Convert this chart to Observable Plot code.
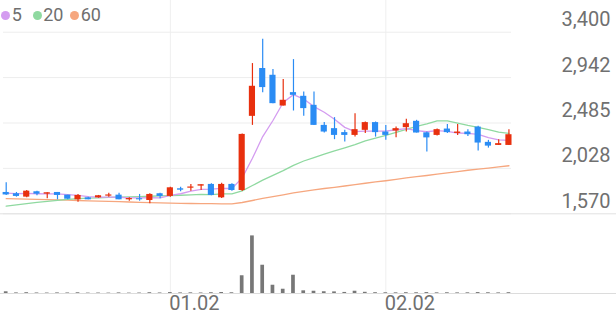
<!DOCTYPE html>
<html><head><meta charset="utf-8">
<script src="https://cdn.jsdelivr.net/npm/d3@7"></script>
<script src="https://cdn.jsdelivr.net/npm/@observablehq/plot@0.6"></script>
<style>
body{margin:0;background:#fff;font-family:Roboto,sans-serif}
#wrap{position:relative;width:616px;height:321px;overflow:hidden;background:#fff}
#wrap svg{position:absolute;left:0;display:block;background:transparent}
.dot{position:absolute;width:9px;height:9px;border-radius:50%}
.lbl{position:absolute;font-size:18px;line-height:18px;color:#6f6f6f;white-space:nowrap}
</style>
</head><body>
<div id="wrap"></div>
<script>
// ---- data ----
const opens  = [1785,1772,1738,1792,1768,1785,1758,1711,1731,1731,1748,1758,1711,1722,1704,1772,1745,1822,1828,1849,1866,1731,1866,1805,2552,3034,2966,2656,2791,2754,2663,2461,2428,2388,2360,2411,2489,2394,2404,2438,2502,2386,2360,2424,2380,2394,2444,2290,2259,2259];
const highs  = [1883,1785,1805,1798,1782,1785,1758,1765,1738,1755,1778,1778,1731,1765,1772,1778,1838,1838,1866,1863,1873,1879,1873,2375,3084,3329,3024,2923,3124,2797,2797,2489,2539,2411,2579,2495,2495,2461,2444,2522,2512,2394,2424,2471,2471,2418,2451,2310,2317,2418];
const lows   = [1755,1738,1732,1752,1721,1711,1711,1687,1711,1727,1738,1711,1697,1697,1671,1721,1738,1792,1798,1805,1752,1724,1798,1795,2461,2791,2680,2656,2606,2552,2461,2384,2317,2293,2343,2378,2343,2310,2337,2394,2384,2192,2353,2378,2360,2350,2202,2232,2259,2259];
const closes = [1760,1745,1798,1768,1782,1755,1717,1755,1711,1752,1760,1711,1724,1711,1765,1745,1832,1808,1840,1863,1755,1866,1805,2370,2855,2842,2680,2714,2764,2630,2461,2394,2360,2360,2418,2489,2388,2360,2428,2478,2384,2335,2418,2388,2394,2367,2283,2252,2277,2367];
const volumes = [128,45,60,40,35,45,40,55,30,35,30,45,30,35,60,40,70,45,50,40,60,75,55,1330,4320,2120,620,320,1370,200,170,130,120,80,170,90,60,55,50,60,55,70,50,55,45,50,70,55,45,60];
const ma5  = [1778,1774,1775,1772,1771,1770,1764,1755,1744,1738,1738,1737,1730,1730,1733,1731,1755,1772,1798,1817,1819,1826,1825,1932,2130,2348,2510,2692,2771,2726,2650,2593,2522,2441,2399,2404,2403,2403,2417,2429,2408,2397,2409,2401,2384,2380,2370,2337,2315,2309];
const ma20 = [1647,1660,1673,1685,1696,1706,1715,1722,1727,1731,1735,1738,1741,1744,1747,1750,1754,1757,1761,1765,1764,1770,1771,1801,1855,1909,1957,2005,2058,2102,2137,2171,2203,2235,2268,2305,2333,2361,2390,2421,2452,2476,2506,2507,2484,2461,2441,2418,2393,2380];
const ma60 = [1722,1720,1718,1716,1713,1710,1707,1704,1701,1698,1695,1692,1689,1686,1683,1680,1678,1676,1674,1673,1672,1671,1671,1684,1704,1725,1743,1761,1780,1797,1812,1825,1837,1850,1863,1878,1891,1903,1917,1931,1944,1956,1970,1983,1996,2009,2020,2031,2042,2054];
const yTicks = [1570, 2027.5, 2485, 2942.5, 3400];
const yTickLabels = ["1,570", "2,028", "2,485", "2,942", "3,400"];
const xTickIdx = [16, 37];
const xTickLabels = ["01.02", "02.02"];
const maLabels = ["5", "20", "60"];
const maColors = ["#d49cf0", "#8fd9a0", "#f6a77f"];

// ---- build ----
const UP = "#e8300e", DOWN = "#2a8cf4";
const candles = closes.map((c, i) => ({i, o: opens[i], h: highs[i], l: lows[i], c, up: c >= opens[i]}));
const ups = candles.filter(d => d.up), downs = candles.filter(d => !d.up);
const xDomain = [-0.263, 49.25];
const xRange = [3, 511];
const textColor = "#707070";

const candleMarks = (arr, color) => [
  Plot.ruleX(arr, {x: "i", y1: "l", y2: "h", stroke: color, strokeWidth: 1.2}),
  Plot.rect(arr, {x1: d => d.i - 0.3, x2: d => d.i + 0.3, y1: d => Math.min(d.o, d.c), y2: d => Math.max(d.o, d.c), fill: color})
];
const maLine = (arr, color) => Plot.line(arr, {x: (d, i) => i, y: d => d, stroke: color, strokeWidth: 1.3});

const price = Plot.plot({
  width: 616, height: 214, margin: 0,
  style: {background: "transparent", overflow: "visible", fontFamily: "Roboto, sans-serif"},
  x: {domain: xDomain, range: xRange, axis: null},
  y: {domain: [1570, 3400], range: [213.3, 31.7], axis: null},
  marks: [
    Plot.ruleX(xTickIdx, {stroke: "#efefef"}),
    Plot.ruleY(yTicks, {x1: () => xDomain[0], x2: () => xDomain[1], stroke: "#ededed"}),
    Plot.ruleY([yTicks[0]], {stroke: "#e2e2e2"}),
    maLine(ma60, maColors[2]),
    maLine(ma20, maColors[1]),
    maLine(ma5, maColors[0]),
    ...candleMarks(ups, UP),
    ...candleMarks(downs, DOWN),
    Plot.text(yTicks, {y: d => d, text: (d, i) => yTickLabels[i], frameAnchor: "right", textAnchor: "end", dx: -6, dy: -12.5, fontSize: 20, fill: textColor})
  ]
});
price.style.top = "0px";

const vol = Plot.plot({
  width: 616, height: 107, margin: 0,
  style: {background: "transparent", overflow: "visible", fontFamily: "Roboto, sans-serif"},
  x: {domain: xDomain, range: xRange, axis: null},
  y: {domain: [0, 5925], range: [79, 0], axis: null},
  marks: [
    Plot.ruleX(xTickIdx, {y1: () => 0, y2: () => 5925, stroke: "#efefef"}),
    Plot.rect(volumes, {x1: (d, i) => i - 0.18, x2: (d, i) => i + 0.18, y1: () => 0, y2: d => d, fill: "#777777"}),
    Plot.ruleY([0], {stroke: "#dcdcdc"}),
    Plot.text(xTickIdx, {x: d => d, text: (d, i) => xTickLabels[i], frameAnchor: "bottom", dy: -12, dx: -1, textAnchor: "start", fontSize: 20, fill: textColor})
  ]
});
vol.style.top = "214px";

const wrap = document.getElementById("wrap");
wrap.appendChild(price);
wrap.appendChild(vol);

// legend
const dotCx = [5.7, 37, 74];
const lblX = [11.7, 43.2, 80.7];
maLabels.forEach((lab, k) => {
  const dot = document.createElement("div");
  dot.className = "dot";
  dot.style.left = (dotCx[k] - 4.5) + "px";
  dot.style.top = (15 - 4.5) + "px";
  dot.style.background = maColors[k];
  wrap.appendChild(dot);
  const t = document.createElement("div");
  t.className = "lbl";
  t.style.left = lblX[k] + "px";
  t.style.top = "6.3px";
  t.textContent = lab;
  wrap.appendChild(t);
});
</script>
</body></html>
